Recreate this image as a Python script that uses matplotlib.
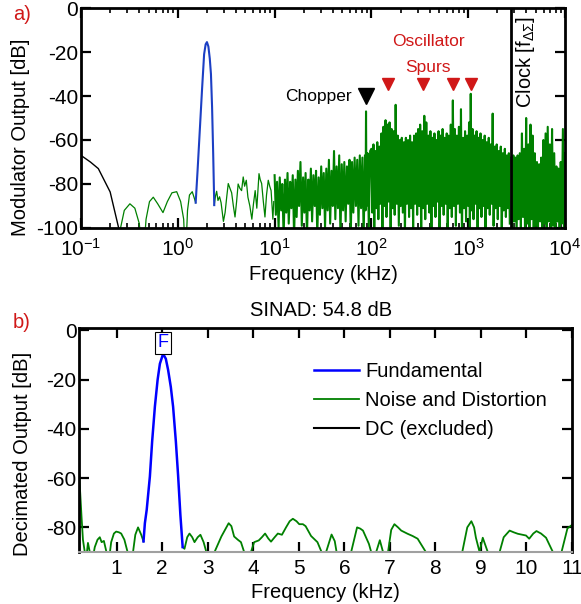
import numpy as np
import matplotlib
matplotlib.use("Agg")
import matplotlib.pyplot as plt

plt.rcParams['font.family'] = ['Liberation Sans', 'DejaVu Sans']
plt.rcParams['mathtext.fontset'] = 'custom'
plt.rcParams['mathtext.rm'] = 'Liberation Sans'
plt.rcParams['mathtext.it'] = 'Liberation Sans:italic'
plt.rcParams['axes.unicode_minus'] = False

GREEN = "#008000"
BLUE_TOP = "#1c3fc4"
BLUE = "#0000ff"
RED = "#d01818"
FS = 14.5
FS_TICK = 15
FS_ANN = 12.5

# ---------------- panel a) modulator output spectrum ----------------
dc_f = [0.1, 0.125, 0.151, 0.2, 0.245]
dc_db = [-67, -70, -73, -83.6, -100]

lobe_f = [0.245, 0.28, 0.32, 0.36, 0.40, 0.437, 0.47, 0.51, 0.558, 0.62, 0.703,
          0.78, 0.87, 0.974, 1.07, 1.15, 1.2, 1.26, 1.32, 1.41, 1.47, 1.53]
lobe_db = [-104, -92, -89, -91, -98, -115, -96, -88, -86, -89, -93,
           -88, -84, -83.5, -88, -96, -115, -92, -85, -83.5, -86, -88.5]

fund_f = [1.53, 1.6, 1.7, 1.78, 1.87, 1.94, 2.0, 2.07, 2.14, 2.2, 2.26, 2.32, 2.38]
fund_db = [-88.5, -74, -53, -37, -21, -16.5, -15.5, -17.5, -23, -30, -45, -66, -89.6]

sparse_f = [2.38, 2.45, 2.52, 2.6, 2.7, 2.8, 2.96, 3.08, 3.2, 3.32, 3.46, 3.6, 3.75,
            3.9, 4.05, 4.2, 4.38, 4.56, 4.74, 4.9, 5.1, 5.3, 5.55, 5.82, 6.05, 6.3,
            6.55, 6.9, 7.1, 7.35, 7.65, 7.95, 8.25, 8.6, 8.9, 9.2, 9.6, 9.8]
sparse_db = [-89.6, -85.5, -83.3, -87.5, -85.8, -88.5, -97, -93, -86, -79.8, -82, -84, -90,
             -95, -88, -80, -82, -83, -76.8, -81, -78.3, -86, -90, -96, -89, -83,
             -91, -75.3, -78, -79.8, -88, -95, -85, -78.3, -81, -83, -96, -88]

dense_f = [10.0, 10.3, 10.6, 11.0, 11.3, 11.7, 12.0, 12.4, 12.8, 13.2, 13.6, 14.0, 14.5,
           14.9, 15.4, 15.9, 16.4, 16.9, 17.4, 17.9, 18.5, 19.1, 19.7, 20.3, 20.9, 21.6,
           22.3, 23.0, 23.7, 24.4, 25.2, 26.0, 26.8, 27.6, 28.5, 29.4, 30.3, 31.2, 32.2,
           33.2, 34.2, 35.3, 36.4, 37.5, 38.7, 39.9, 41.1, 42.4, 43.7, 45.1, 46.5, 47.9,
           49.4, 51.0, 52.5, 54.2, 55.9, 57.6, 59.4, 61.2, 63.1, 65.1, 67.1, 69.2, 71.4,
           73.6, 75.9, 78.2, 80.7, 83.2, 85.8, 87.0, 88.0, 89.0, 91.2, 94.0, 97.0,
           100, 102, 105, 107, 110, 113, 115, 118, 121, 124, 127, 130, 133, 137, 140,
           143, 147, 150, 154, 158, 162, 166, 170, 174, 178, 183, 187, 192, 197, 201,
           206, 211, 217, 222, 227, 233, 239, 245, 251, 257, 263, 270, 276, 283, 290,
           297, 304, 312, 319, 327, 335, 343, 352, 360, 369, 378, 388, 397, 407, 417,
           427, 438, 448, 459, 471, 482, 494, 506, 519, 531, 544, 558, 571, 585, 600,
           614, 629, 645, 661, 677, 694, 711, 728, 746, 764, 783, 802, 822, 842, 862,
           884, 905, 928, 950, 974,
           1000, 1020, 1040, 1062, 1085, 1110, 1135, 1160, 1190, 1220, 1250, 1280, 1310,
           1340, 1370, 1410, 1440, 1480, 1510, 1550, 1590, 1630, 1670, 1710, 1750, 1790,
           1830, 1880, 1920, 1970, 2020, 2070, 2120, 2170, 2220, 2280, 2330, 2390, 2450,
           2510, 2570, 2630, 2690]
dense_db = [-76, -94, -79, -100, -77, -92, -80, -104, -78, -93, -75, -98, -79,
            -91, -76, -104, -78, -95, -74, -90, -70, -99, -77, -93, -75, -104,
            -78, -92, -73, -97, -76, -90, -74, -104, -77, -94, -72, -91, -75,
            -100, -73, -92, -69, -98, -74, -90, -65, -96, -72, -91, -67, -104,
            -71, -92, -70, -97, -72, -89, -69, -104, -70, -93, -68, -90, -69,
            -99, -67, -91, -68, -104, -67, -92, -47, -90, -66, -100, -65,
            -64, -93, -62, -104, -65, -91, -61, -96, -63, -89, -57, -100, -54, -90, -51,
            -95, -53, -88, -52, -104, -55, -91, -56, -94, -44, -89, -58, -99, -60,
            -90, -59, -93, -61, -104, -59, -89, -60, -95, -58, -91, -61, -100, -58, -89,
            -57, -94, -55, -90, -53, -104, -56, -91, -49, -96, -52, -89, -58, -93, -56,
            -104, -59, -90, -57, -95, -60, -88, -56, -100, -58, -90, -55, -94, -59, -89,
            -57, -104, -58, -91, -53, -95, -42, -90, -55, -99, -58, -89, -54, -93, -46,
            -104, -59, -91, -56, -97, -58,
            -90, -52, -100, -39, -92, -55, -96, -58, -89, -56, -104, -59, -91,
            -57, -95, -60, -90, -58, -100, -61, -91, -59, -94, -62, -89, -48,
            -99, -63, -91, -62, -96, -65, -90, -63, -104, -66, -92, -64, -95,
            -67, -91, -66, -98]

post_f = [2780, 2850, 2930, 3000, 3080, 3160, 3240, 3320, 3410, 3500, 3590, 3680, 3780,
          3870, 3970, 4070, 4180, 4290, 4400, 4510, 4630, 4750, 4870, 5000, 5130, 5260,
          5400, 5540, 5680, 5830, 5980, 6140, 6300, 6460, 6630, 6800, 6980, 7160, 7350,
          7540, 7740, 7940, 8150, 8360, 8580, 8800, 9030, 9270, 9510, 9760, 10000]
post_db = [-68, -100, -67, -97, -68, -104, -67, -96, -66, -100, -57, -95, -64,
           -104, -50, -98, -62, -100, -53, -96, -58, -104, -66, -99, -70, -100,
           -71, -97, -68, -104, -60, -98, -57, -100, -54, -97, -62, -104, -55,
           -99, -66, -100, -72, -97, -73, -104, -70, -98, -55, -100, -66]

chopper_f = [88]
chopper_db = [-40]
spur_f = [148, 339, 692, 1062]
spur_db = [-34.5, -34.5, -34.5, -34.5]
clock_f = 2760

# ---------------- panel b) decimated output spectrum ----------------
b_dc_f = [0.0, 0.09, 0.18]
b_dc_db = [0, -30, -60]

b_noise1_f = [0.18, 0.2, 0.23, 0.26, 0.3, 0.33, 0.37, 0.41, 0.45, 0.52, 0.58, 0.63,
              0.67, 0.72, 0.77, 0.82, 0.88, 0.94, 0.99, 1.05, 1.1, 1.17, 1.24, 1.3,
              1.36, 1.41, 1.47, 1.54, 1.59]
b_noise1_db = [-60, -66, -76, -85, -90, -93, -86.3, -90, -95, -88, -85, -84,
               -86, -85.5, -89.5, -95, -86, -82.5, -81.7, -82, -82.5, -85, -90, -95,
               -90, -83, -80, -83, -85.7]

b_fund_f = [1.59, 1.62, 1.66, 1.73, 1.78, 1.84, 1.9, 1.95, 2.02, 2.08, 2.13, 2.19,
            2.24, 2.3, 2.35, 2.4, 2.45]
b_fund_db = [-85.7, -78.3, -72.9, -59.3, -45, -30.9, -20, -13.5, -9.5, -11.5, -16, -23,
             -31, -45, -59, -75, -88]

b_noise2_f = [2.45, 2.49, 2.55, 2.6, 2.66, 2.71, 2.78, 2.84, 2.91, 2.97, 3.05, 3.1,
              3.15, 3.3, 3.46, 3.52, 3.58, 3.66, 3.73, 3.8, 3.88, 3.95, 4.02, 4.12,
              4.19, 4.26, 4.33, 4.39, 4.47, 4.54, 4.63, 4.72, 4.8, 4.87, 4.95, 5.01,
              5.09, 5.15, 5.27, 5.41, 5.5, 5.55, 5.6, 5.72, 5.79, 5.83, 5.9, 6.1, 6.15,
              6.28, 6.35, 6.41, 6.54, 6.59, 6.65, 6.7, 6.78, 6.85, 6.9, 6.96, 7.03,
              7.1, 7.18, 7.25, 7.39, 7.5, 7.61, 7.79, 7.85, 8.5, 8.59, 8.7, 8.79, 8.85,
              8.89, 8.97, 9.04, 9.15, 9.22, 9.35, 9.41, 9.5, 9.63, 9.72, 9.81, 9.99,
              10.06, 10.15, 10.22, 10.32, 10.43, 10.58, 10.65, 10.72, 10.77, 10.9, 11.0]
b_noise2_db = [-88, -88.7, -84, -82.5, -84, -86, -84, -83, -86, -90, -95, -95,
               -90, -83.7, -78.3, -79.5, -83.7, -85, -86, -90, -95, -90, -86, -85.3,
               -84, -82.5, -84.5, -85.8, -84, -82.5, -83, -80, -77.5, -76.5, -77.5, -78.7,
               -78.7, -79.5, -83.5, -86, -90, -95, -90, -82.9, -85.6, -90, -95, -95, -90,
               -80, -80.5, -81.3, -86.7, -90, -95, -90, -85.2, -90, -95, -90, -81,
               -78.7, -80, -81.3, -82.6, -83.5, -84.6, -90, -95, -95, -90, -80, -77.5, -80,
               -84.2, -90, -84.2, -90, -95, -95, -90, -84, -81.3, -82, -82.6, -83.3,
               -84.6, -82.5, -81.5, -82.5, -84.2, -90, -95, -95, -90, -80.4, -79]


def style_axes(ax):
    for s in ax.spines.values():
        s.set_linewidth(2.0)
    ax.tick_params(which='major', direction='in', top=True, right=True,
                   length=7, width=1.6, labelsize=FS_TICK, pad=5)
    ax.tick_params(axis='y', which='major', pad=2)
    ax.tick_params(which='minor', direction='in', top=True, right=True,
                   length=3.5, width=1.2)


fig = plt.figure(figsize=(5.81, 6.04), dpi=100)

# ---- top panel
ax1 = fig.add_axes([81 / 581, 1 - 228 / 604, 484 / 581, 220 / 604])
ax1.set_xscale('log')
ax1.plot(lobe_f, lobe_db, color=GREEN, lw=0.9)
ax1.plot(sparse_f, sparse_db, color=GREEN, lw=0.9)
ax1.plot(dense_f, dense_db, color=GREEN, lw=1.5)
ax1.plot(post_f, post_db, color=GREEN, lw=1.5)
ax1.plot(fund_f, fund_db, color=BLUE_TOP, lw=1.5)
ax1.plot(dc_f, dc_db, color='black', lw=1.0)
ax1.axvline(clock_f, color='black', lw=2.0)
ax1.plot(chopper_f, chopper_db, 'v', color='black', ms=11)
ax1.plot(spur_f, spur_db, 'v', color=RED, ms=9)
ax1.text(63, -40, 'Chopper', ha='right', va='center', fontsize=FS_ANN)
ax1.text(385, -15, 'Oscillator', ha='center', va='center', fontsize=FS_ANN, color=RED)
ax1.text(385, -27, 'Spurs', ha='center', va='center', fontsize=FS_ANN, color=RED)
ax1.text(3900, -24.5, r'Clock [f$_{\Delta\Sigma}$]', rotation=90, ha='center',
         va='center', fontsize=FS)
ax1.set_xlim(0.1, 1e4)
ax1.set_ylim(-100, 0)
ax1.set_yticks([0, -20, -40, -60, -80, -100])
style_axes(ax1)
ax1.tick_params(axis='x', which='major', pad=7)
ax1.set_xlabel('Frequency (kHz)', fontsize=FS, labelpad=4)
ax1.set_ylabel('Modulator Output [dB]', fontsize=FS)
ax1.yaxis.set_label_coords(-0.105, 0.41)

# ---- bottom panel
ax2 = fig.add_axes([79.3 / 581, 1 - 552 / 604, 492.7 / 581, 224 / 604])
l_dc, = ax2.plot(b_dc_f, b_dc_db, color='black', lw=1.5)
l_noise, = ax2.plot(b_noise1_f, b_noise1_db, color=GREEN, lw=1.3)
ax2.plot(b_noise2_f, b_noise2_db, color=GREEN, lw=1.3)
l_fund, = ax2.plot(b_fund_f, b_fund_db, color=BLUE, lw=1.8)
ax2.text(2.02, -5, 'F', ha='center', va='center', fontsize=13, color=BLUE,
         bbox=dict(boxstyle='square,pad=0.15', fc='white', ec='black', lw=0.8))
ax2.set_xlim(0.18, 11)
ax2.set_ylim(-90, 1)
ax2.set_xticks(range(1, 12))
ax2.set_yticks([0, -20, -40, -60, -80])
style_axes(ax2)
ax2.spines['bottom'].set_color('#a0a0a0')
ax2.spines['bottom'].set_linewidth(1.5)
ax2.set_xlabel('Frequency (kHz)', fontsize=FS, labelpad=4)
ax2.set_ylabel('Decimated Output [dB]', fontsize=FS)
ax2.yaxis.set_label_coords(-0.096, 0.4375)
ax2.set_title('SINAD: 54.8 dB', fontsize=FS, pad=9, x=0.49)
ax2.legend([l_fund, l_noise, l_dc], ['Fundamental', 'Noise and Distortion', 'DC (excluded)'],
           loc='upper left', bbox_to_anchor=(0.46, 0.883), frameon=False, fontsize=FS,
           handlelength=2.25, handletextpad=0.3, labelspacing=0.5, borderaxespad=0)

fig.text(22 / 581, 1 - 15 / 604, 'a)', color=RED, fontsize=FS, ha='center', va='center')
fig.text(22 / 581, 1 - 323 / 604, 'b)', color=RED, fontsize=FS, ha='center', va='center')

fig.savefig('out.png', dpi=100)
